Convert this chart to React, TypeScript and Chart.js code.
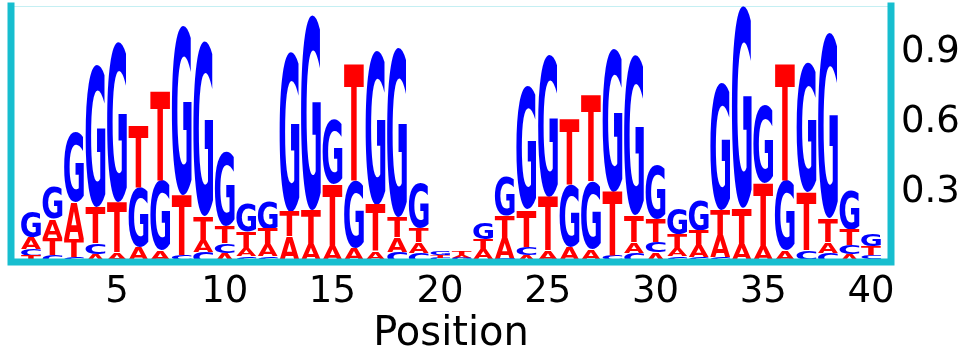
import React, { useEffect, useRef } from "react";
import { Chart, registerables } from "chart.js";

Chart.register(...registerables);

const positions = Array.from({ length: 40 }, (_, i) => i + 1);

// per-letter heights at positions 1..40
const A_vals = [0.05, 0.08, 0.155, 0.035, 0.03, 0.056, 0.04, 0.008, 0.05, 0.038,
  0.035, 0.05, 0.1, 0.064, 0.06, 0.05, 0.035, 0.06, 0.045, 0.007,
  0.012, 0.042, 0.088, 0.03, 0.04, 0.055, 0.045, 0.008, 0.045, 0.04,
  0.035, 0.05, 0.095, 0.064, 0.06, 0.04, 0.008, 0.045, 0.035, 0.012];
const C_vals = [0.03, 0.03, 0.02, 0.047, 0.01, 0.008, 0.01, 0.02, 0.045, 0.042,
  0.025, 0.025, 0.01, 0.008, 0.008, 0.008, 0.01, 0.045, 0.04, 0.01,
  0.007, 0.012, 0.015, 0.035, 0.01, 0.008, 0.01, 0.02, 0.04, 0.045,
  0.025, 0.02, 0.02, 0.008, 0.008, 0.008, 0.04, 0.04, 0.038, 0.016];
const G_vals = [0.11, 0.14, 0.3, 0.61, 0.69, 0.255, 0.3, 0.725, 0.75, 0.32,
  0.12, 0.12, 0.69, 0.84, 0.28, 0.29, 0.665, 0.73, 0.19, 0.014,
  0.009, 0.07, 0.17, 0.53, 0.61, 0.27, 0.29, 0.615, 0.69, 0.23,
  0.11, 0.13, 0.545, 0.87, 0.34, 0.3, 0.56, 0.8, 0.17, 0.05];
const T_vals = [0.025, 0.075, 0.08, 0.155, 0.215, 0.265, 0.38, 0.257, 0.1, 0.073,
  0.07, 0.065, 0.105, 0.15, 0.265, 0.5, 0.2, 0.085, 0.06, 0.011,
  0.014, 0.045, 0.095, 0.16, 0.23, 0.28, 0.37, 0.275, 0.115, 0.1,
  0.06, 0.065, 0.105, 0.16, 0.27, 0.5, 0.25, 0.1, 0.065, 0.04];

const letters = ["A", "C", "G", "T"];
const letterValues = [A_vals, C_vals, G_vals, T_vals];
const letterColors = ["#ff0000", "#0000ff", "#0000ff", "#ff0000"];

const xTicks = [5, 10, 15, 20, 25, 30, 35, 40];
const yTicks = [0.3, 0.6, 0.9];
const xTitle = "Position";

const CYAN = "#17becf";
const LETTER_FONT = 'bold 200px "DejaVu Sans"';

function buildStacks() {
  const out = letters.map(() => [] as { x: number; y: [number, number] }[]);
  positions.forEach((p, i) => {
    const order = letters.map((_, k) => k).sort((a, b) => letterValues[a][i] - letterValues[b][i]);
    let base = 0;
    order.forEach((k) => {
      const v = letterValues[k][i];
      out[k].push({ x: p, y: [base, base + v] });
      base += v;
    });
  });
  return out;
}

const metricsCache: Record<string, { l: number; r: number; a: number; d: number }> = {};
function glyph(ctx: CanvasRenderingContext2D, ch: string) {
  if (!metricsCache[ch]) {
    ctx.font = LETTER_FONT;
    const m = ctx.measureText(ch);
    metricsCache[ch] = {
      l: m.actualBoundingBoxLeft,
      r: m.actualBoundingBoxRight,
      a: m.actualBoundingBoxAscent,
      d: m.actualBoundingBoxDescent,
    };
  }
  return metricsCache[ch];
}

const logoPlugin = {
  id: "logoLetters",
  afterDatasetsDraw(chart: any) {
    const ctx: CanvasRenderingContext2D = chart.ctx;
    const area = chart.chartArea;
    chart.data.datasets.forEach((ds: any, di: number) => {
      const meta = chart.getDatasetMeta(di);
      const ch = ds.letter;
      meta.data.forEach((el: any) => {
        const { x, y, base, width } = el.getProps(["x", "y", "base", "width"], true);
        const top = Math.min(y, base);
        const h = Math.abs(base - y);
        if (h <= 0.2) return;
        const left = x - width / 2;
        ctx.save();
        const g = glyph(ctx, ch);
        ctx.font = LETTER_FONT;
        ctx.textAlign = "left";
        ctx.textBaseline = "alphabetic";
        ctx.fillStyle = ds.letterColor;
        ctx.translate(left, top);
        ctx.scale(width / (g.l + g.r), h / (g.a + g.d));
        ctx.fillText(ch, g.l, g.a);
        ctx.restore();
      });
    });
    ctx.save();
    ctx.strokeStyle = "rgba(23,190,207,0.25)";
    ctx.lineWidth = 1;
    ctx.beginPath();
    ctx.moveTo(area.left, area.top + 0.5);
    ctx.lineTo(area.right, area.top + 0.5);
    ctx.stroke();
    ctx.strokeStyle = CYAN;
    ctx.lineWidth = 7;
    ctx.lineCap = "square";
    ctx.beginPath();
    ctx.moveTo(area.left, area.top);
    ctx.lineTo(area.left, area.bottom);
    ctx.lineTo(area.right, area.bottom);
    ctx.lineTo(area.right, area.top);
    ctx.stroke();
    ctx.restore();
  },
};

function zeroPad(s: any) {
  s.paddingTop = 0;
  s.paddingBottom = 0;
  s.paddingLeft = 0;
  s.paddingRight = 0;
}

export default function App() {
  const ref = useRef<HTMLCanvasElement>(null);
  useEffect(() => {
    document.body.style.margin = "0";
    const stacks = buildStacks();
    const chart = new Chart(ref.current!, {
      type: "bar",
      data: {
        datasets: letters.map((l, k) => ({
          label: l,
          letter: l,
          letterColor: letterColors[k],
          data: stacks[k],
          backgroundColor: "rgba(0,0,0,0)",
          borderWidth: 0,
          grouped: false,
          barPercentage: 0.92,
          categoryPercentage: 1,
        })) as any,
      },
      options: {
        responsive: false,
        animation: false,
        layout: { padding: { left: 11, top: 6, right: 0, bottom: 0 } },
        plugins: { legend: { display: false }, tooltip: { enabled: false } },
        scales: {
          x: {
            type: "linear",
            min: 0.08,
            max: 40.93,
            offset: false,
            grid: { display: false, drawTicks: false },
            border: { display: false },
            afterBuildTicks: (s: any) => {
              s.ticks = xTicks.map((v) => ({ value: v }));
            },
            afterFit: (s: any) => {
              s.height = 92;
              zeroPad(s);
            },
            ticks: {
              color: "#000",
              padding: 8,
              maxRotation: 0,
              autoSkip: false,
              font: { family: '"DejaVu Sans"', size: 37 },
              callback: (v: any) => String(v),
            },
            title: {
              display: true,
              text: xTitle,
              color: "#000",
              font: { family: '"DejaVu Sans"', size: 40 },
              padding: { top: 0, bottom: -5 },
            },
          },
          y: {
            type: "linear",
            position: "right",
            min: 0,
            max: 1.1,
            grid: { display: false, drawTicks: false },
            border: { display: false },
            afterBuildTicks: (s: any) => {
              s.ticks = yTicks.map((v) => ({ value: v }));
            },
            afterFit: (s: any) => {
              s.width = 70;
              zeroPad(s);
            },
            ticks: {
              color: "#000",
              padding: 10,
              font: { family: '"DejaVu Sans"', size: 37 },
              callback: (v: any) => String(v),
            },
          },
        },
      },
      plugins: [logoPlugin],
    });
    return () => chart.destroy();
  }, []);
  return (
    <div style={{ width: 961, height: 354 }}>
      <canvas ref={ref} width={961} height={354} />
    </div>
  );
}
